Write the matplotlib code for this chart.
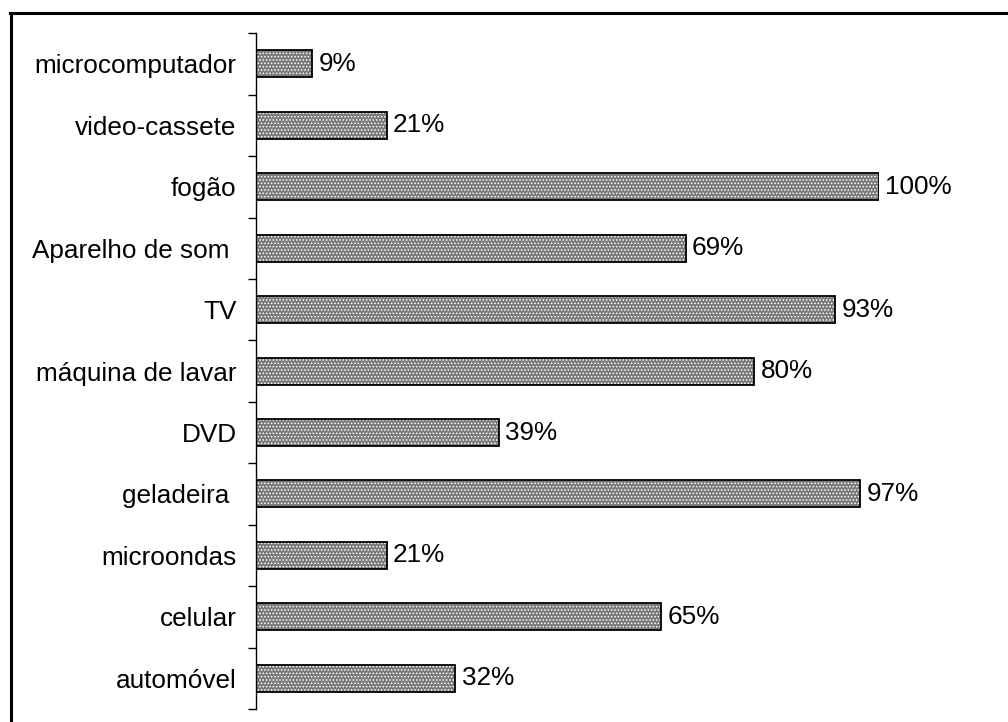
import matplotlib.pyplot as plt
from matplotlib.lines import Line2D

plt.rcParams['font.family'] = ['Liberation Sans', 'DejaVu Sans']
plt.rcParams['hatch.linewidth'] = 0.7

# dados (de cima para baixo)
itens = ['microcomputador', 'video-cassete', 'fogão', 'Aparelho de som ', 'TV',
         'máquina de lavar', 'DVD', 'geladeira ', 'microondas', 'celular', 'automóvel']
valores = [9, 21, 100, 69, 93, 80, 39, 97, 21, 65, 32]
rotulos = ['%d%%' % v for v in valores]

fig = plt.figure(figsize=(10.08, 7.22), dpi=100)
ax = fig.add_axes([0.254, 0.018, 0.618, 0.936])

pos = list(range(len(itens)))
# preenchimento pontilhado + contorno
ax.barh(pos, valores, height=0.44, color='#7a7a7a', edgecolor='white', hatch='.....', linewidth=0)
ax.barh(pos, valores, height=0.44, fill=False, edgecolor='black', linewidth=1.3)

for p, v, r in zip(pos, valores, rotulos):
    ax.text(v + 1.0, p, r, va='center', ha='left', fontsize=18.8, clip_on=False)

ax.set_xlim(0, 100)
ax.set_ylim(len(itens) - 0.5, -0.5)
ax.set_yticks(pos)
ax.set_yticklabels(itens, fontsize=18.8)
ax.set_yticks([p - 0.5 for p in pos] + [len(itens) - 0.5], minor=True)
ax.tick_params(axis='y', which='major', length=0, pad=14)
ax.tick_params(axis='y', which='minor', length=6, width=1, direction='out')
ax.set_xticks([])
for s in ['top', 'right', 'bottom']:
    ax.spines[s].set_visible(False)
ax.spines['left'].set_linewidth(1)

# moldura (cortada à direita e embaixo)
fig.add_artist(Line2D([10 / 1008, 1.0], [1 - 13 / 722, 1 - 13 / 722], color='black', lw=2.2, transform=fig.transFigure))
fig.add_artist(Line2D([11 / 1008, 11 / 1008], [0, 1 - 13 / 722], color='black', lw=2.2, transform=fig.transFigure))

fig.savefig('out.png', dpi=100)
